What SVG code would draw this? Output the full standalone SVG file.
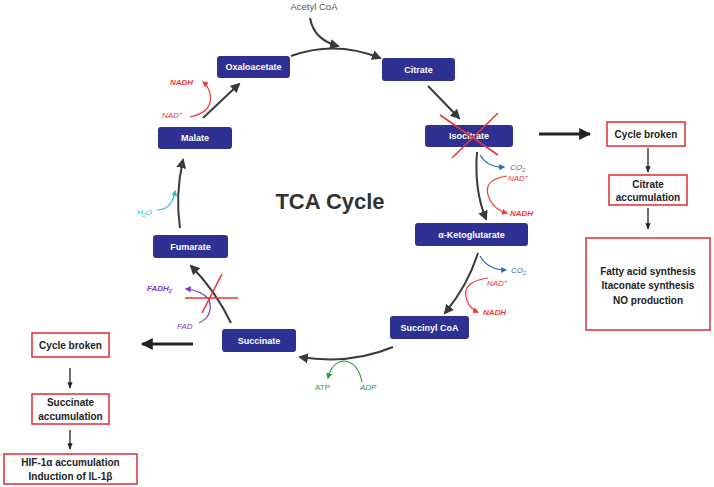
<svg xmlns="http://www.w3.org/2000/svg" width="714" height="487" viewBox="0 0 714 487">
<defs>
<style>
.node rect{fill:#2e3192;rx:3px}
.node text{fill:#fff;font-family:"Liberation Sans",Arial,sans-serif;font-weight:bold;font-size:9px;text-anchor:middle}
.rbox rect{fill:#fff;stroke:#e03a3e;stroke-width:1.6}
.rbox text{fill:#222;font-family:"Liberation Sans",Arial,sans-serif;font-weight:bold;font-size:10px;text-anchor:middle}
.main{fill:none;stroke:#3a3a3a;stroke-width:2}
.thin{fill:none;stroke:#222;stroke-width:1.3}
.lbl{font-family:"Liberation Sans",Arial,sans-serif;font-size:8px;font-style:italic}
.cross{stroke:#e8363a;stroke-width:1.6}
</style>
<marker id="ah" viewBox="0 0 10 10" refX="8" refY="5" markerWidth="5" markerHeight="5" orient="auto"><path d="M0,0 L10,5 L0,10 z" fill="#3a3a3a"/></marker>
<marker id="ahr" viewBox="0 0 10 10" refX="8" refY="5" markerWidth="5" markerHeight="5" orient="auto"><path d="M0,0 L10,5 L0,10 z" fill="#ee3a3a"/></marker>
<marker id="ahb" viewBox="0 0 10 10" refX="8" refY="5" markerWidth="5" markerHeight="5" orient="auto"><path d="M0,0 L10,5 L0,10 z" fill="#2a6fb8"/></marker>
<marker id="ahg" viewBox="0 0 10 10" refX="8" refY="5" markerWidth="5" markerHeight="5" orient="auto"><path d="M0,0 L10,5 L0,10 z" fill="#2e9a3a"/></marker>
<marker id="ahc" viewBox="0 0 10 10" refX="8" refY="5" markerWidth="5" markerHeight="5" orient="auto"><path d="M0,0 L10,5 L0,10 z" fill="#2bbcd4"/></marker>
<marker id="ahp" viewBox="0 0 10 10" refX="8" refY="5" markerWidth="5" markerHeight="5" orient="auto"><path d="M0,0 L10,5 L0,10 z" fill="#7a3cc0"/></marker>
<marker id="big" viewBox="0 0 10 10" refX="9" refY="5" markerWidth="4" markerHeight="4" orient="auto"><path d="M0,0 L10,5 L0,10 z" fill="#222"/></marker>
<marker id="sm" viewBox="0 0 10 10" refX="9" refY="5" markerWidth="5" markerHeight="5" orient="auto"><path d="M0,1 L10,5 L0,9 z" fill="#222"/></marker>
</defs>
<rect width="714" height="487" fill="#fff"/>

<g id="connectors">
<path class="main" d="M310,18 Q314,40 338,46" marker-end="url(#ah)"/>
<path class="main" d="M291,56 Q335,40 380,58" marker-end="url(#ah)"/>
<path class="main" d="M428,86 L459,118" marker-end="url(#ah)"/>
<path class="main" d="M477,152 Q474,190 486,219" marker-end="url(#ah)"/>
<path class="main" d="M478,253 Q468,285 445,313" marker-end="url(#ah)"/>
<path class="main" d="M393,347 Q350,365 300,357" marker-end="url(#ah)"/>
<path class="main" d="M231,323 Q215,290 191,266" marker-end="url(#ah)"/>
<path class="main" d="M180,228 Q175,195 183,160" marker-end="url(#ah)"/>
<path class="main" d="M203,118 L239,84" marker-end="url(#ah)"/>

<path d="M480,155 Q488,168 504,167" fill="none" stroke="#2a6fb8" stroke-width="1.2" marker-end="url(#ahb)"/>
<path d="M507,176 Q480,180 490,200 Q495,210 507,213" fill="none" stroke="#ee3a3a" stroke-width="1.2" marker-end="url(#ahr)"/>
<path d="M480,256 Q488,270 506,270" fill="none" stroke="#2a6fb8" stroke-width="1.2" marker-end="url(#ahb)"/>
<path d="M488,278 Q460,282 467,300 Q470,309 478,312" fill="none" stroke="#ee3a3a" stroke-width="1.2" marker-end="url(#ahr)"/>
<path d="M362,382 Q358,362 344,361 Q332,362 328,378" fill="none" stroke="#2e9a3a" stroke-width="1.2" marker-end="url(#ahg)"/>
<path d="M199,323 Q214,316 209,299 Q200,290 186,289" fill="none" stroke="#7a3cc0" stroke-width="1.2" marker-end="url(#ahp)"/>
<path d="M157,210 Q172,210 175,191" fill="none" stroke="#2bbcd4" stroke-width="1.2" marker-end="url(#ahc)"/>
<path d="M190,117 Q214,112 210,93 Q208,86 203,82" fill="none" stroke="#ee3a3a" stroke-width="1.2" marker-end="url(#ahr)"/>

<line class="cross" x1="185" y1="298" x2="238" y2="298"/>
<line class="cross" x1="202" y1="313" x2="222" y2="274"/>

<line x1="539" y1="134" x2="590" y2="134" stroke="#222" stroke-width="3" marker-end="url(#big)"/>
<line x1="648" y1="148" x2="648" y2="172" class="thin" marker-end="url(#sm)"/>
<line x1="648" y1="208" x2="648" y2="229" class="thin" marker-end="url(#sm)"/>
<line x1="193" y1="344" x2="142" y2="344" stroke="#222" stroke-width="3" marker-end="url(#big)"/>
<line x1="70" y1="368" x2="70" y2="388" class="thin" marker-end="url(#sm)"/>
<line x1="70" y1="430" x2="70" y2="449" class="thin" marker-end="url(#sm)"/>
</g>

<text x="314" y="10" font-family="Liberation Sans,Arial,sans-serif" font-size="9.5" fill="#555" text-anchor="middle">Acetyl CoA</text>
<text x="330" y="209" font-family="Liberation Sans,Arial,sans-serif" font-size="22" font-weight="bold" fill="#333" text-anchor="middle">TCA Cycle</text>

<text class="lbl" x="510" y="170" fill="#2a6fb8">CO<tspan font-size="5.5" dy="2">2</tspan></text>
<text class="lbl" x="508" y="181" fill="#ee3a3a">NAD<tspan font-size="5.5" dy="-3">+</tspan></text>
<text class="lbl" x="510" y="216" fill="#ee3a3a" font-weight="bold">NADH</text>
<text class="lbl" x="511" y="273" fill="#2a6fb8">CO<tspan font-size="5.5" dy="2">2</tspan></text>
<text class="lbl" x="487" y="286" fill="#ee3a3a">NAD<tspan font-size="5.5" dy="-3">+</tspan></text>
<text class="lbl" x="483" y="315" fill="#ee3a3a" font-weight="bold">NADH</text>
<text x="315" y="390" font-family="Liberation Sans,Arial,sans-serif" font-size="8" fill="#2e9a3a">ATP</text>
<text class="lbl" x="360" y="390" fill="#2e9a3a">ADP</text>
<text class="lbl" x="147" y="291" fill="#7a3cc0" font-weight="bold">FADH<tspan font-size="5.5" dy="2">2</tspan></text>
<text class="lbl" x="177" y="329" fill="#7a3cc0">FAD</text>
<text class="lbl" x="137" y="215" fill="#2bbcd4">H<tspan font-size="5.5" dy="2">2</tspan><tspan dy="-2">O</tspan></text>
<text class="lbl" x="162" y="118" fill="#ee3a3a">NAD<tspan font-size="5.5" dy="-3">+</tspan></text>
<text class="lbl" x="170" y="85" fill="#ee3a3a" font-weight="bold">NADH</text>

<g id="oxaloacetate" class="node"><rect x="217" y="56" width="73" height="22"/><text x="253.5" y="70">Oxaloacetate</text></g>
<g id="citrate" class="node"><rect x="382" y="58" width="73" height="23"/><text x="418.5" y="72.5">Citrate</text></g>
<g id="isocitrate" class="node"><rect x="425" y="125" width="88" height="22"/><text x="469" y="139">Isocitrate</text></g>
<g id="akg" class="node"><rect x="415" y="223" width="113" height="23"/><text x="471.5" y="237.5">α-Ketoglutarate</text></g>
<g id="succinylcoa" class="node"><rect x="390" y="316" width="79" height="23"/><text x="429.5" y="330.5">Succinyl CoA</text></g>
<g id="succinate" class="node"><rect x="222" y="329" width="74" height="23"/><text x="259" y="343.5">Succinate</text></g>
<g id="fumarate" class="node"><rect x="153" y="235" width="75" height="23"/><text x="190.5" y="249.5">Fumarate</text></g>
<g id="malate" class="node"><rect x="158" y="127" width="74" height="22"/><text x="195" y="141">Malate</text></g>

<g id="x-iso"><line class="cross" x1="440" y1="115" x2="498" y2="155"/><line class="cross" x1="498" y1="113" x2="452" y2="158"/></g>

<g id="cb-right" class="rbox"><rect x="607" y="122" width="78" height="24"/><text x="646" y="138">Cycle broken</text></g>
<g id="citacc" class="rbox"><rect x="609" y="175" width="78" height="30"/><text x="648" y="188">Citrate</text><text x="648" y="201">accumulation</text></g>
<g id="effects" class="rbox"><rect x="586" y="238" width="124" height="92"/><text x="648" y="275">Fatty acid synthesis</text><text x="648" y="289">Itaconate synthesis</text><text x="648" y="304">NO production</text></g>
<g id="cb-left" class="rbox"><rect x="32" y="333" width="77" height="24"/><text x="70.5" y="349">Cycle broken</text></g>
<g id="sucacc" class="rbox"><rect x="32" y="394" width="77" height="30"/><text x="70.5" y="406">Succinate</text><text x="70.5" y="420">accumulation</text></g>
<g id="hif" class="rbox"><rect x="4" y="454" width="133" height="30"/><text x="70.5" y="466">HIF-1α accumulation</text><text x="70.5" y="480">Induction of IL-1β</text></g>
</svg>
